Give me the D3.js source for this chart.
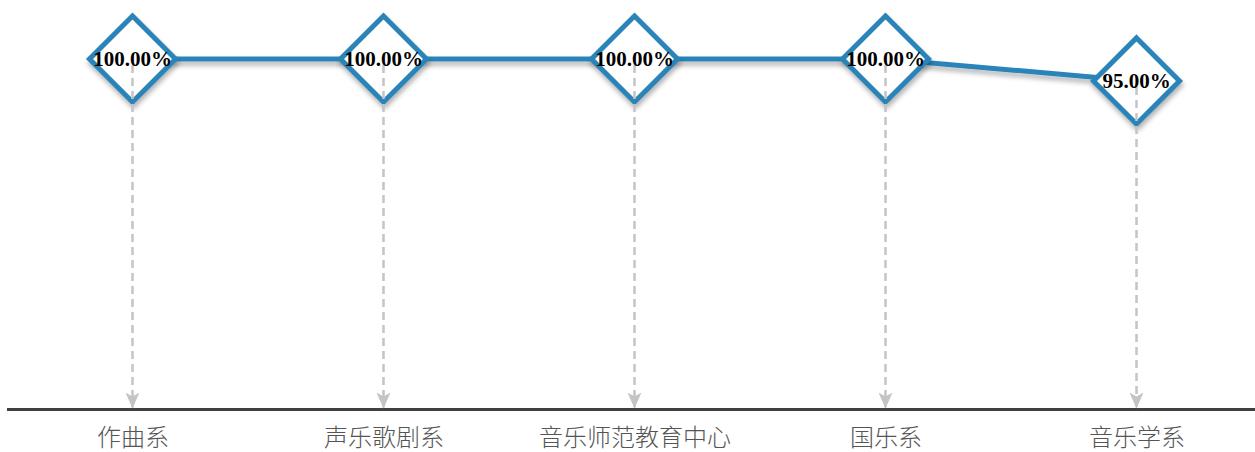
<!DOCTYPE html>
<html><head><meta charset="utf-8">
<script src="https://cdn.jsdelivr.net/npm/d3@7"></script>
<style>body{margin:0;background:#fff;overflow:hidden}</style>
</head><body>
<svg id="chart" width="1255" height="452"></svg>
<script>
const categories = ["作曲系","声乐歌剧系","音乐师范教育中心","国乐系","音乐学系"];
const values = [100, 100, 100, 100, 95];
const labels = ["100.00%","100.00%","100.00%","100.00%","95.00%"];

const svg = d3.select("#chart");
const axisY = 409.5;
const x = d3.scalePoint().domain(categories).range([7, 1262]).padding(0.5);
const y = d3.scaleLinear().domain([20, 100]).range([axisY, 59]);

const defs = svg.append("defs");
const f = defs.append("filter").attr("id","sh").attr("x","-20%").attr("y","-20%").attr("width","140%").attr("height","160%");
f.append("feGaussianBlur").attr("in","SourceAlpha").attr("stdDeviation",2.5);
f.append("feOffset").attr("dx",1).attr("dy",4).attr("result","ob");
f.append("feComponentTransfer").append("feFuncA").attr("type","linear").attr("slope",0.3);
const m = f.append("feMerge"); m.append("feMergeNode"); m.append("feMergeNode").attr("in","SourceGraphic");

defs.append("marker").attr("id","arr").attr("viewBox","0 0 14 16").attr("refX",7).attr("refY",15)
  .attr("markerWidth",14).attr("markerHeight",16).attr("markerUnits","userSpaceOnUse").attr("orient","0")
  .append("path").attr("d","M0,0 L7,4 L14,0 L7,16 Z").attr("fill","#c4c4c4");

const blue = "#2b84b8";

// axis
const axis = d3.axisBottom(x).tickSize(0).tickPadding(17);
const g = svg.append("g").attr("transform",`translate(0,${axisY})`).call(axis);
g.select(".domain").remove();
svg.append("line").attr("x1",7).attr("x2",1255).attr("y1",axisY).attr("y2",axisY)
  .attr("stroke","#404040").attr("stroke-width",3);
g.selectAll(".tick text").attr("font-family","'Noto Sans CJK SC', sans-serif").attr("font-size",24)
  .attr("fill","#555").attr("dy","0.8em").attr("font-weight",300);

// line
const data = categories.map((c,i)=>({c, v:values[i], l:labels[i]}));
svg.append("path").datum(data).attr("fill","none").attr("stroke",blue).attr("stroke-width",5)
  .attr("filter","url(#sh)")
  .attr("d", d3.line().x(d=>x(d.c)).y(d=>y(d.v)));

// diamonds
const s = 43;
svg.selectAll(".dm").data(data).enter().append("path").attr("class","dm")
  .attr("d", d=>`M${x(d.c)},${y(d.v)-s} L${x(d.c)+s},${y(d.v)} L${x(d.c)},${y(d.v)+s} L${x(d.c)-s},${y(d.v)} Z`)
  .attr("fill","#fff").attr("stroke",blue).attr("stroke-width",5).attr("filter","url(#sh)");

// drop lines
svg.selectAll(".drop").data(data).enter().append("line")
  .attr("x1",d=>x(d.c)).attr("x2",d=>x(d.c)).attr("y1",d=>y(d.v)+6).attr("y2",axisY-2)
  .attr("stroke","#c4c4c4").attr("stroke-width",2.5).attr("stroke-dasharray","8,5")
  .attr("marker-end","url(#arr)");

// labels
svg.selectAll(".lbl").data(data).enter().append("text")
  .attr("x",d=>x(d.c)).attr("y",d=>y(d.v)).attr("dy","0.35em").attr("text-anchor","middle")
  .attr("font-family","'Liberation Serif', serif").attr("font-weight","bold").attr("font-size",21)
  .attr("fill","#000").text(d=>d.l);
</script>
</body></html>
